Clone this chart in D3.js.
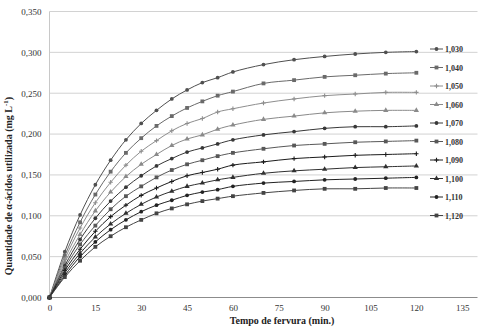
<!DOCTYPE html>
<html>
<head>
<meta charset="utf-8">
<script src="https://cdn.jsdelivr.net/npm/d3@7"></script>
<style>
    body { margin: 0; background: #fff; }
    text { font-family: "Liberation Serif", "Times New Roman", serif; }
</style>
</head>
<body>
<div id="chart"></div>
<script>
const width = 490;
const height = 333;

// tempo de fervura (min)
const times = [0, 5, 10, 15, 20, 25, 30, 35, 40, 45, 50, 55, 60, 70, 80, 90, 100, 110, 120];

const seriesNames = ["1,030", "1,040", "1,050", "1,060", "1,070", "1,080", "1,090", "1,100", "1,110", "1,120"];

const s1030 = [0, 0.056, 0.101, 0.138, 0.168, 0.193, 0.213, 0.229, 0.243, 0.254, 0.263, 0.269, 0.276, 0.285, 0.291, 0.295, 0.298, 0.300, 0.301];
const s1040 = [0, 0.051, 0.092, 0.126, 0.154, 0.177, 0.195, 0.210, 0.222, 0.232, 0.240, 0.247, 0.252, 0.262, 0.266, 0.270, 0.272, 0.274, 0.275];
const s1050 = [0, 0.047, 0.085, 0.116, 0.141, 0.162, 0.179, 0.192, 0.204, 0.213, 0.219, 0.227, 0.231, 0.238, 0.243, 0.247, 0.249, 0.251, 0.251];
const s1060 = [0, 0.043, 0.077, 0.106, 0.129, 0.148, 0.163, 0.175, 0.186, 0.194, 0.199, 0.206, 0.211, 0.218, 0.222, 0.226, 0.228, 0.229, 0.229];
const s1070 = [0, 0.039, 0.071, 0.097, 0.118, 0.135, 0.149, 0.161, 0.170, 0.178, 0.183, 0.188, 0.193, 0.199, 0.203, 0.207, 0.209, 0.209, 0.210];
const s1080 = [0, 0.036, 0.065, 0.088, 0.108, 0.124, 0.136, 0.147, 0.156, 0.163, 0.168, 0.173, 0.177, 0.182, 0.186, 0.188, 0.190, 0.191, 0.192];
const s1090 = [0, 0.033, 0.059, 0.081, 0.099, 0.113, 0.125, 0.134, 0.142, 0.149, 0.153, 0.157, 0.162, 0.166, 0.170, 0.172, 0.174, 0.175, 0.176];
const s1100 = [0, 0.030, 0.054, 0.074, 0.090, 0.103, 0.114, 0.123, 0.130, 0.136, 0.140, 0.144, 0.147, 0.152, 0.155, 0.157, 0.159, 0.160, 0.161];
const s1110 = [0, 0.027, 0.050, 0.068, 0.083, 0.095, 0.105, 0.113, 0.119, 0.125, 0.129, 0.132, 0.136, 0.140, 0.142, 0.144, 0.145, 0.146, 0.147];
const s1120 = [0, 0.025, 0.045, 0.062, 0.075, 0.086, 0.095, 0.103, 0.109, 0.114, 0.118, 0.121, 0.124, 0.128, 0.131, 0.133, 0.133, 0.134, 0.134];

const xTicks = [0, 15, 30, 45, 60, 75, 90, 105, 120, 135];
const yTicks = [0, 0.05, 0.1, 0.15, 0.2, 0.25, 0.3, 0.35];

const allValues = [s1030, s1040, s1050, s1060, s1070, s1080, s1090, s1100, s1110, s1120];
const markers = ["circle", "square", "plus", "triangle", "circle", "square", "plus", "triangle", "circle", "square"];
const colors = ["#505050", "#6a6a6a", "#8e8e8e", "#8a8a8a", "#383838", "#585858", "#1c1c1c", "#303030", "#222222", "#444444"];

const series = seriesNames.map((name, i) => ({
    name: name,
    marker: markers[i],
    color: colors[i],
    points: times.map((t, j) => ({ t: t, v: allValues[i][j] }))
}));

const svg = d3
    .select("#chart")
    .append("svg")
    .attr("width", width)
    .attr("height", height)
    .attr("viewBox", [0, 0, width, height]);

const x = d3.scaleLinear().domain([0, 140]).range([49.5, 477.5]);
const y = d3.scaleLinear().domain([0, 0.35]).range([297.5, 11.5]);

// gridlines
svg.append("g")
    .selectAll("line")
    .data(yTicks.slice(1))
    .join("line")
    .attr("x1", x(0))
    .attr("x2", x(140))
    .attr("y1", d => y(d))
    .attr("y2", d => y(d))
    .attr("stroke", "#d2d2d2")
    .attr("stroke-width", 1);

svg.append("line")
    .attr("x1", x(0)).attr("x2", x(0))
    .attr("y1", y(0.35)).attr("y2", y(0))
    .attr("stroke", "#c8c8c8");

// x axis
const xAxis = svg.append("g")
    .attr("transform", "translate(0," + y(0) + ")")
    .call(d3.axisBottom(x).tickValues(xTicks).tickSize(0).tickPadding(7).tickFormat(d3.format("d")));
xAxis.select(".domain").attr("stroke", "#8c8c8c").attr("d", "M" + x(0) + ",0H" + x(140));
xAxis.selectAll("text").attr("font-size", 9).attr("fill", "#333");

// y axis
const yAxis = svg.append("g")
    .attr("transform", "translate(" + x(0) + ",0)")
    .call(d3.axisLeft(y).tickValues(yTicks).tickSize(0).tickPadding(8)
        .tickFormat(d => d3.format(".3f")(d).replace(".", ",")));
yAxis.select(".domain").remove();
yAxis.selectAll("text").attr("font-size", 9).attr("fill", "#333");

// titles
svg.append("text")
    .attr("x", 282)
    .attr("y", 324)
    .attr("text-anchor", "middle")
    .attr("font-size", 10)
    .attr("font-weight", "bold")
    .attr("fill", "#222")
    .text("Tempo de fervura (min.)");

const yTitle = svg.append("text")
    .attr("transform", "translate(12,186) rotate(-90)")
    .attr("text-anchor", "middle")
    .attr("font-size", 10)
    .attr("font-weight", "bold")
    .attr("fill", "#222");
yTitle.append("tspan").text("Quantidade de α-ácidos utilizada (mg L");
yTitle.append("tspan").attr("font-size", 7).attr("dy", -4).text("-1");
yTitle.append("tspan").attr("dy", 4).text(")");

const line = d3.line()
    .x(d => x(d.t))
    .y(d => y(d.v))
    .curve(d3.curveCatmullRom.alpha(0.5));

function drawMarker(g, type, color) {
    if (type === "circle") {
        g.append("circle").attr("r", 1.9).attr("fill", color);
    } else if (type === "square") {
        g.append("rect").attr("x", -1.9).attr("y", -1.9).attr("width", 3.8).attr("height", 3.8).attr("fill", color);
    } else if (type === "triangle") {
        g.append("path").attr("d", d3.symbol(d3.symbolTriangle, 12)()).attr("fill", color);
    } else {
        g.append("path").attr("d", "M-2.2,0H2.2M0,-2.2V2.2").attr("stroke", color).attr("stroke-width", 1.1);
    }
}

const plots = svg.append("g")
    .selectAll(".serie")
    .data(series)
    .join("g")
    .attr("class", "serie");

plots.append("path")
    .attr("d", d => line(d.points))
    .attr("fill", "none")
    .attr("stroke", d => d.color)
    .attr("stroke-width", 1);

plots.each(function (s) {
    d3.select(this)
        .selectAll(".pt")
        .data(s.points)
        .join("g")
        .attr("class", "pt")
        .attr("transform", d => "translate(" + x(d.t) + "," + y(d.v) + ")")
        .each(function () {
            drawMarker(d3.select(this), s.marker, s.color);
        });
});

// legend
const legend = svg.append("g")
    .selectAll(".leg")
    .data(series)
    .join("g")
    .attr("class", "leg")
    .attr("transform", (d, i) => "translate(430," + (49 + i * 18.5) + ")");

legend.append("line")
    .attr("x1", 0).attr("x2", 13)
    .attr("stroke", d => d.color)
    .attr("stroke-width", 1);

legend.each(function (s) {
    const m = d3.select(this).append("g").attr("transform", "translate(6.5,0)");
    drawMarker(m, s.marker, s.color);
});

legend.append("text")
    .attr("x", 15)
    .attr("y", 3)
    .attr("font-size", 8)
    .attr("font-weight", "bold")
    .attr("fill", "#333")
    .text(d => d.name);
</script>
</body>
</html>
